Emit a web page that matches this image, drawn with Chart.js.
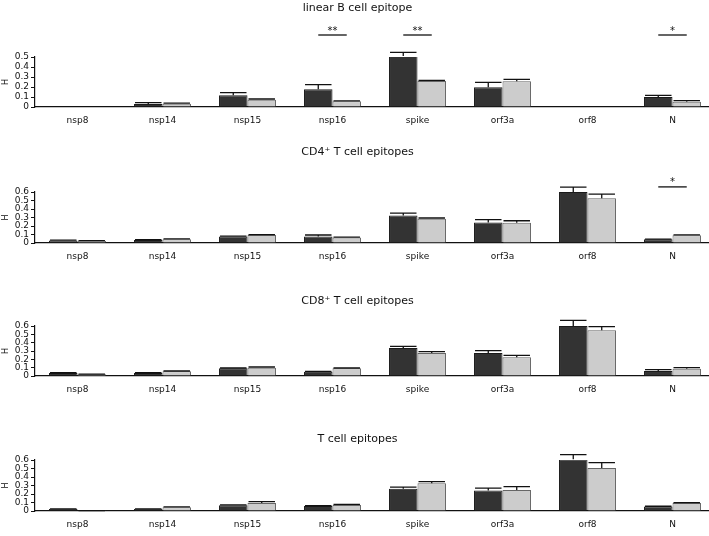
<!DOCTYPE html>
<html>
<head>
<meta charset="utf-8">
<script src="https://cdn.jsdelivr.net/npm/chart.js@4.4.0/dist/chart.umd.min.js"></script>
<style>
body{margin:0;width:709px;height:536px;overflow:hidden;background:#fff;position:relative;font-family:"DejaVu Sans"}
canvas{position:absolute;left:0}
</style>
</head>
<body>
<canvas id="c1" width="715" height="129" style="top:0px"></canvas>
<canvas id="c2" width="715" height="121" style="top:144px"></canvas>
<canvas id="c3" width="715" height="105" style="top:293px"></canvas>
<canvas id="c4" width="715" height="102" style="top:431px"></canvas>
<script>
// proteins on the x axis
var proteins = ['nsp8', 'nsp14', 'nsp15', 'nsp16', 'spike', 'orf3a', 'orf8', 'N'];

// linear B cell epitope
var bDark  = [0, 0.030, 0.117, 0.177, 0.510, 0.197, 0, 0.100];
var bLight = [0, 0.033, 0.073, 0.057, 0.260, 0.257, 0, 0.053];
var bDarkErr  = [0, 0.014, 0.026, 0.046, 0.037, 0.050, 0, 0.016];
var bLightErr = [0, 0.005, 0.007, 0.004, 0.007, 0.020, 0, 0.010];
var bSig = [['nsp16', '**'], ['spike', '**'], ['N', '*']];

// CD4+ T cell epitopes
var cd4Dark  = [0.030, 0.035, 0.076, 0.076, 0.325, 0.242, 0.599, 0.043];
var cd4Light = [0.025, 0.045, 0.095, 0.064, 0.286, 0.238, 0.527, 0.090];
var cd4DarkErr  = [0.003, 0.004, 0.005, 0.018, 0.027, 0.032, 0.059, 0.003];
var cd4LightErr = [0.002, 0.004, 0.004, 0.004, 0.008, 0.024, 0.048, 0.005];
var cd4Sig = [['N', '*']];

// CD8+ T cell epitopes
var cd8Dark  = [0.036, 0.036, 0.092, 0.052, 0.336, 0.276, 0.600, 0.060];
var cd8Light = [0.020, 0.056, 0.100, 0.092, 0.276, 0.224, 0.548, 0.088];
var cd8DarkErr  = [0.003, 0.003, 0.004, 0.004, 0.020, 0.028, 0.068, 0.016];
var cd8LightErr = [0.002, 0.004, 0.008, 0.004, 0.016, 0.024, 0.044, 0.012];
var cd8Sig = [];

// T cell epitopes
var tDark  = [0.024, 0.024, 0.068, 0.060, 0.262, 0.242, 0.608, 0.052];
var tLight = [0.004, 0.044, 0.095, 0.072, 0.326, 0.246, 0.505, 0.095];
var tDarkErr  = [0.002, 0.002, 0.004, 0.004, 0.018, 0.028, 0.055, 0.004];
var tLightErr = [0.001, 0.004, 0.015, 0.006, 0.020, 0.040, 0.063, 0.004];
var tSig = [];

var panels = [
  {id: 'c1', title: 'linear B cell epitope', dark: bDark, light: bLight, darkErr: bDarkErr, lightErr: bLightErr, sig: bSig, yMax: 0.5, gap: 41.8, sigAt: 0.72},
  {id: 'c2', title: 'CD4\u207A T cell epitopes', dark: cd4Dark, light: cd4Light, darkErr: cd4DarkErr, lightErr: cd4LightErr, sig: cd4Sig, yMax: 0.6, gap: 32.8, sigAt: 0.66},
  {id: 'c3', title: 'CD8\u207A T cell epitopes', dark: cd8Dark, light: cd8Light, darkErr: cd8DarkErr, lightErr: cd8LightErr, sig: cd8Sig, yMax: 0.6, gap: 17.8, sigAt: 0.7},
  {id: 'c4', title: 'T cell epitopes', dark: tDark, light: tLight, darkErr: tDarkErr, lightErr: tLightErr, sig: tSig, yMax: 0.6, gap: 13.8, sigAt: 0.7}
];

// error bars (upper half only) and significance brackets
var extras = {
  id: 'extras',
  afterDatasetsDraw: function(chart, args, opts){
    var ctx = chart.ctx;
    var y = chart.scales.y;
    ctx.save();
    ctx.strokeStyle = '#111';
    ctx.lineWidth = 1.3;
    chart.data.datasets.forEach(function(ds, i){
      var meta = chart.getDatasetMeta(i);
      meta.data.forEach(function(bar, j){
        var e = ds.err[j];
        if (!e) return;
        var top = y.getPixelForValue(ds.data[j] + e);
        var half = bar.width / 2 - 1;
        ctx.beginPath();
        ctx.moveTo(bar.x, bar.y);
        ctx.lineTo(bar.x, top);
        ctx.moveTo(bar.x - half, top);
        ctx.lineTo(bar.x + half, top);
        ctx.stroke();
      });
    });
    var m0 = chart.getDatasetMeta(0), m1 = chart.getDatasetMeta(1);
    ctx.fillStyle = '#111';
    ctx.font = '10px "DejaVu Sans"';
    ctx.textAlign = 'center';
    ctx.textBaseline = 'middle';
    opts.sig.forEach(function(s){
      var k = chart.data.labels.indexOf(s[0]);
      var x0 = m0.data[k].x, x1 = m1.data[k].x;
      var ly = y.getPixelForValue(opts.level);
      ctx.beginPath();
      ctx.moveTo(x0, ly);
      ctx.lineTo(x1, ly);
      ctx.stroke();
      ctx.fillText(s[1], (x0 + x1) / 2, ly - 4);
    });
    ctx.restore();
  }
};

panels.forEach(function(p){
  new Chart(document.getElementById(p.id), {
    type: 'bar',
    data: {
      labels: proteins,
      datasets: [
        {data: p.dark, err: p.darkErr, backgroundColor: '#333333', borderColor: '#1a1a1a', borderWidth: 1},
        {data: p.light, err: p.lightErr, backgroundColor: '#cccccc', borderColor: '#666666', borderWidth: 1}
      ]
    },
    plugins: [extras],
    options: {
      responsive: false,
      animation: false,
      events: [],
      layout: {padding: 0},
      categoryPercentage: 0.67,
      barPercentage: 1,
      plugins: {
        legend: {display: false},
        tooltip: {enabled: false},
        title: {
          display: true,
          text: p.title,
          color: '#111',
          font: {family: 'DejaVu Sans', size: 11, weight: 'normal'},
          padding: {top: 2, bottom: p.gap}
        },
        extras: {sig: p.sig, level: p.sigAt}
      },
      scales: {
        x: {
          grid: {display: false, drawTicks: false},
          border: {display: true, color: '#111', width: 1.2},
          ticks: {color: '#111', font: {family: 'DejaVu Sans', size: 9}, padding: 8, autoSkip: false, maxRotation: 0},
          afterFit: function(s){ s.height = 22; }
        },
        y: {
          min: 0,
          max: p.yMax,
          grid: {drawOnChartArea: false, drawTicks: true, tickLength: 4, color: '#111'},
          border: {display: true, color: '#111', width: 1.2},
          ticks: {stepSize: 0.1, color: '#111', font: {family: 'DejaVu Sans', size: 9}, padding: 2, autoSkip: false},
          title: {display: true, text: 'H', color: '#111', font: {family: 'DejaVu Sans', size: 8}, padding: {top: 1, bottom: 0}},
          afterFit: function(s){ s.width = 35; }
        }
      }
    }
  });
});
</script>
</body>
</html>
